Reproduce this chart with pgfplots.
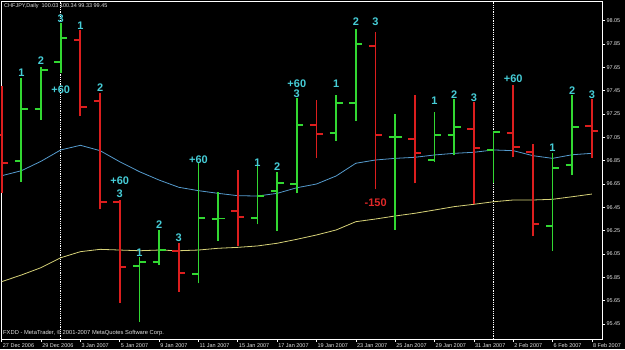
\documentclass[border=0pt]{standalone}
\usepackage{pgfplots}
\pgfplotsset{compat=1.18}
\usepackage{pgfplotstable}
\usepackage{fontspec}
\setmainfont{Liberation Sans}
\definecolor{barGreen}{RGB}{50,215,50}
\definecolor{barRed}{RGB}{220,30,30}
\definecolor{maBlue}{RGB}{85,155,205}
\definecolor{maYellow}{RGB}{215,210,120}
\definecolor{labCyan}{RGB}{70,205,215}
\definecolor{labRed}{RGB}{225,40,40}
\definecolor{txtGray}{RGB}{225,225,225}
\pgfdeclareplotmark{otick}{\pgfpathmoveto{\pgfqpoint{-6.5pt}{0pt}}\pgfpathlineto{\pgfqpoint{0pt}{0pt}}\pgfusepathqstroke}
\pgfdeclareplotmark{ctick}{\pgfpathmoveto{\pgfqpoint{0pt}{0pt}}\pgfpathlineto{\pgfqpoint{6.5pt}{0pt}}\pgfusepathqstroke}
\tikzset{labc/.style={text=labCyan, font=\fontsize{11}{11}\selectfont\bfseries, inner sep=0pt, anchor=center}}

\pgfplotstableread{
x o h l c
1 96.847 97.559 96.667 97.290
2 97.290 97.656 97.199 97.627
3 97.699 98.028 97.599 97.899
7 95.950 96.024 95.470 95.984
8 95.979 96.256 95.956 96.084
10 95.879 96.828 95.799 96.356
11 96.350 96.579 96.164 96.355
13 96.356 96.804 96.305 96.547
14 96.588 96.756 96.247 96.656
15 96.650 97.385 96.570 97.153
17 97.090 97.413 97.021 97.347
18 97.345 97.979 97.190 97.848
20 97.050 97.250 96.256 97.055
22 96.856 97.270 96.841 97.073
23 97.070 97.376 96.896 97.136
25 96.942 97.107 96.656 97.093
28 96.293 96.913 96.078 96.785
29 96.813 97.413 96.727 97.141
}\greenbars

\pgfplotstableread{
x o h l c
0 97.070 97.490 96.573 96.833
4 97.885 97.970 97.233 97.308
5 97.364 97.428 96.433 96.496
6 96.496 96.513 95.633 95.941
9 96.078 96.147 95.727 95.885
12 96.421 96.770 96.119 96.370
16 97.153 97.370 96.876 97.079
19 97.836 97.951 96.605 97.070
21 97.033 97.413 96.656 96.918
24 97.124 97.356 96.479 96.956
26 97.090 97.499 96.879 96.970
27 96.927 96.993 96.204 96.305
30 97.150 97.376 96.876 97.104
}\redbars

\pgfplotstableread{
x y
0 96.721
1 96.764
2 96.845
3 96.942
4 96.982
5 96.936
6 96.841
7 96.756
8 96.684
9 96.622
10 96.593
11 96.570
12 96.550
13 96.547
14 96.570
15 96.618
16 96.650
17 96.719
18 96.828
19 96.856
20 96.870
21 96.879
22 96.899
23 96.913
24 96.922
25 96.942
26 96.936
27 96.893
28 96.870
29 96.901
30 96.913
}\mablue

\pgfplotstableread{
x y
0 95.813
1 95.870
2 95.933
3 96.018
4 96.070
5 96.090
6 96.084
7 96.078
8 96.084
9 96.078
10 96.084
11 96.099
12 96.107
13 96.119
14 96.142
15 96.176
16 96.213
17 96.256
18 96.327
19 96.350
20 96.376
21 96.399
22 96.427
23 96.456
24 96.476
25 96.498
26 96.513
27 96.513
28 96.519
29 96.541
30 96.564
}\mayellow

\begin{document}
\begin{tikzpicture}
\fill[black] (0,0) rectangle (625pt,349pt);
\begin{axis}[
  at={(1pt,10pt)}, anchor=south west,
  scale only axis, width=601.3pt, height=337.3pt,
  xmin=-0.036, xmax=30.53, ymin=95.3213, ymax=98.213,
  axis line style={white, line width=0.8pt},
  tick align=outside, major tick length=3pt,
  tick style={white, line width=0.6pt},
  xtick pos=bottom, ytick pos=right, yticklabel pos=right,
  xtick={0,2,4,6,8,10,12,14,16,18,20,22,24,26,28,30},
  xticklabels={27 Dec 2006,29 Dec 2006,3 Jan 2007,5 Jan 2007,9 Jan 2007,11 Jan 2007,15 Jan 2007,17 Jan 2007,19 Jan 2007,23 Jan 2007,25 Jan 2007,29 Jan 2007,31 Jan 2007,2 Feb 2007,6 Feb 2007,8 Feb 2007},
  ytick={95.45,95.65,95.85,96.05,96.25,96.45,96.65,96.85,97.05,97.25,97.45,97.65,97.85,98.05},
  yticklabels={95.45,95.65,95.85,96.05,96.25,96.45,96.65,96.85,97.05,97.25,97.45,97.65,97.85,98.05},
  ticklabel style={font=\fontsize{5.5}{6}\selectfont, text=txtGray},
  xticklabel style={anchor=north west, inner sep=0pt, xshift=1pt, yshift=-1pt},
  yticklabel style={anchor=west, inner sep=0pt, xshift=1pt},
  clip=true,
]
% period separators
\addplot[white, densely dotted, line width=0.8pt] coordinates {(3,95.3213) (3,98.213)};
\addplot[white, densely dotted, line width=0.8pt] coordinates {(25,95.3213) (25,98.213)};
% moving averages
\addplot[maYellow, line width=0.8pt, mark=none] table[x=x,y=y] {\mayellow};
\addplot[maBlue, line width=0.8pt, mark=none] table[x=x,y=y] {\mablue};
% green bars: high-low line, open and close ticks
\addplot[draw=none, mark=none,
  error bars/.cd, y dir=plus, y explicit, error mark=none,
  error bar style={draw=barGreen, line width=1.8pt, solid}]
  table[x=x, y=l, y error expr=\thisrow{h}-\thisrow{l}] {\greenbars};
\addplot[draw=none, mark=otick, mark options={draw=barGreen, line width=1.8pt}] table[x=x,y=o] {\greenbars};
\addplot[draw=none, mark=ctick, mark options={draw=barGreen, line width=1.8pt}] table[x=x,y=c] {\greenbars};
% red bars
\addplot[draw=none, mark=none,
  error bars/.cd, y dir=plus, y explicit, error mark=none,
  error bar style={draw=barRed, line width=1.8pt, solid}]
  table[x=x, y=l, y error expr=\thisrow{h}-\thisrow{l}] {\redbars};
\addplot[draw=none, mark=otick, mark options={draw=barRed, line width=1.8pt}] table[x=x,y=o] {\redbars};
\addplot[draw=none, mark=ctick, mark options={draw=barRed, line width=1.8pt}] table[x=x,y=c] {\redbars};
% labels
\node[labc] at (axis cs:1,97.604) {1};
\node[labc] at (axis cs:2,97.711) {2};
\node[labc] at (axis cs:3,98.071) {3};
\node[labc] at (axis cs:3,97.456) {+60};
\node[labc] at (axis cs:4,98.005) {1};
\node[labc] at (axis cs:5,97.476) {2};
\node[labc] at (axis cs:6,96.676) {+60};
\node[labc] at (axis cs:6,96.570) {3};
\node[labc] at (axis cs:7,96.065) {1};
\node[labc] at (axis cs:8,96.305) {2};
\node[labc] at (axis cs:9,96.187) {3};
\node[labc] at (axis cs:10,96.856) {+60};
\node[labc] at (axis cs:13,96.833) {1};
\node[labc] at (axis cs:14,96.796) {2};
\node[labc] at (axis cs:15,97.513) {+60};
\node[labc] at (axis cs:15,97.422) {3};
\node[labc] at (axis cs:17,97.513) {1};
\node[labc] at (axis cs:18,98.039) {2};
\node[labc] at (axis cs:19,98.039) {3};
\node[labc, text=labRed] at (axis cs:19.01,96.493) {-150};
\node[labc] at (axis cs:22,97.362) {1};
\node[labc] at (axis cs:23,97.413) {2};
\node[labc] at (axis cs:24,97.390) {3};
\node[labc] at (axis cs:26,97.550) {+60};
\node[labc] at (axis cs:28,96.959) {1};
\node[labc] at (axis cs:29,97.447) {2};
\node[labc] at (axis cs:30,97.413) {3};
\end{axis}
\node[anchor=west, inner sep=0pt, text=txtGray, font=\fontsize{5.5}{6}\selectfont] at (4pt,343pt) {CHFJPY,Daily\ \ 100.03 100.34 99.33 99.45};
\node[anchor=west, inner sep=0pt, text=txtGray, font=\fontsize{5.8}{6}\selectfont] at (3pt,16pt) {FXDD - MetaTrader, © 2001-2007 MetaQuotes Software Corp.};
\pgfresetboundingbox
\path (0,0) rectangle (625pt,349pt);
\end{tikzpicture}
\end{document}
